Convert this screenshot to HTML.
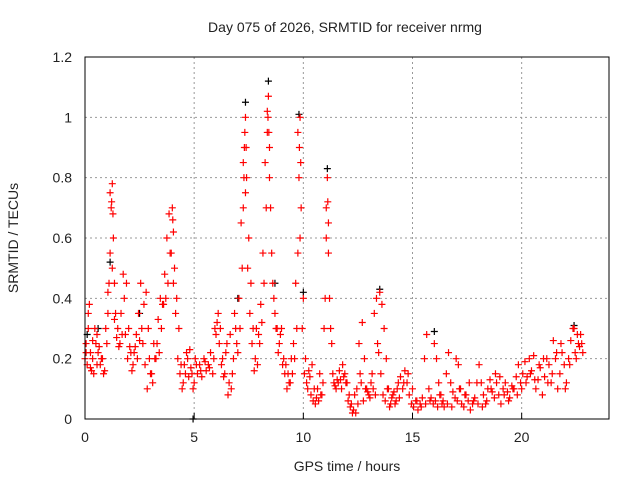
<!DOCTYPE html>
<html><head><meta charset="utf-8"><style>
body{margin:0;background:#fff;}
svg text{font-family:"Liberation Sans",sans-serif;font-size:14px;fill:#222;}
</style></head><body>
<svg width="640" height="480">
<text x="345" y="32" text-anchor="middle">Day 075 of 2026, SRMTID for receiver nrmg</text>
<g id="grid"></g>
<g id="axes"></g>
<g id="black"></g>
<g id="red"></g>
<rect x="85" y="57" width="524" height="362" fill="none" stroke="#000"/>
<text x="347" y="471" text-anchor="middle">GPS time / hours</text>
<text transform="translate(18,238) rotate(-90)" text-anchor="middle">SRMTID / TECUs</text>
</svg>
<script>
const xTicks=[0,5,10,15,20];
const yTicks=[0,0.2,0.4,0.6,0.8,1,1.2];
const yTickLabels=["0","0.2","0.4","0.6","0.8","1","1.2"];
const redT=[0,.05,.1,.15,.2,.25,.3,.35,.4,.5,.55,.6,.7,.8,.9,1.0,1.05,1.1,1.15,1.2,1.22,1.25,1.28,1.3,1.35,1.4,1.5,1.6,1.7,1.8,1.9,2.0,2.1,2.2,2.3,2.4,2.5,2.6,2.7,2.8,2.9,3.0,3.1,3.2,3.3,3.4,3.5,3.6,3.7,3.8,3.9,4.0,4.02,4.05,4.1,4.2,4.3,4.4,4.5,4.6,4.7,4.8,4.9,5.0,5.1,5.3,5.5,5.7,5.9,6.0,6.1,6.2,6.3,6.4,6.5,6.6,6.7,6.8,6.9,7.0,7.1,7.2,7.25,7.28,7.3,7.32,7.35,7.38,7.4,7.5,7.6,7.7,7.8,7.9,8.0,8.1,8.2,8.3,8.35,8.38,8.4,8.42,8.45,8.5,8.6,8.7,8.8,8.9,9.0,9.1,9.2,9.3,9.4,9.5,9.6,9.7,9.75,9.8,9.82,9.85,9.88,9.9,10.0,10.1,10.2,10.3,10.4,10.5,10.6,10.7,10.8,10.9,11.0,11.05,11.1,11.12,11.15,11.2,11.3,11.4,11.5,11.6,11.7,11.8,11.9,12.0,12.1,12.2,12.3,12.4,12.5,12.6,12.7,12.8,12.9,13.0,13.1,13.2,13.3,13.4,13.5,13.6,13.7,13.8,13.9,14.0,14.1,14.2,14.3,14.4,14.6,14.8,15.0,15.2,15.4,15.6,15.8,16.0,16.1,16.2,16.3,16.4,16.6,16.8,17.0,17.1,17.2,17.4,17.6,17.8,18.0,18.2,18.4,18.6,18.8,19.0,19.2,19.4,19.6,19.8,20.0,20.2,20.4,20.6,20.8,21.0,21.2,21.4,21.6,21.8,22.0,22.2,22.4,22.5,22.6,22.7,22.8];
const redV=[.2,.25,.18,.3,.38,.22,.16,.2,.15,.25,.28,.22,.18,.2,.16,.25,.35,.45,.55,.7,.72,.78,.68,.6,.45,.35,.3,.25,.28,.4,.45,.3,.22,.18,.24,.2,.26,.3,.38,.42,.3,.15,.12,.2,.25,.22,.3,.38,.4,.45,.55,.7,.66,.62,.5,.4,.3,.18,.12,.15,.2,.23,.15,.12,.18,.16,.19,.17,.2,.28,.35,.3,.2,.15,.25,.12,.1,.2,.3,.22,.3,.5,.7,.8,.9,.95,1.0,.9,.8,.6,.45,.3,.2,.18,.25,.32,.45,.7,.95,1.0,1.07,.95,.9,.7,.45,.35,.3,.25,.3,.2,.18,.15,.12,.15,.2,.3,.55,.8,.9,1.0,.85,.7,.4,.2,.1,.14,.18,.1,.07,.06,.08,.12,.4,.6,.8,.72,.65,.4,.25,.12,.1,.12,.13,.18,.15,.12,.08,.05,.03,.02,.05,.15,.32,.2,.1,.08,.12,.1,.08,.25,.42,.38,.3,.2,.1,.05,.08,.05,.1,.07,.12,.15,.1,.06,.04,.05,.06,.25,.2,.12,.08,.06,.05,.04,.2,.18,.1,.08,.12,.06,.05,.04,.06,.1,.15,.14,.08,.06,.1,.08,.1,.12,.15,.13,.18,.2,.12,.15,.22,.25,.1,.18,.3,.2,.25,.28,.22];
// second pass: samples at 0.05, 0.15, ... 22.75 h
const red2Start=0.05, red2Step=0.1;
const red2V=[.22,.35,.17,.26,.3,.18,.24,.2,.15,.3,
.42,.75,.5,.33,.27,.24,.35,.48,.28,.2,
.24,.16,.22,.28,.35,.45,.25,.18,.1,.2,
.15,.25,.2,.33,.4,.38,.48,.6,.68,.55,
.45,.35,.2,.15,.1,.18,.22,.14,.17,.1,
.2,.15,.18,.14,.2,.16,.18,.22,.15,.3,
.32,.25,.18,.14,.22,.08,.28,.15,.35,.25,
.4,.65,.85,.75,.5,.35,.25,.16,.3,.28,
.38,.55,.85,1.02,.8,.55,.4,.3,.22,.28,
.18,.15,.1,.12,.2,.25,.45,.95,.6,.3,
.15,.12,.16,.08,.06,.05,.1,.15,.08,.3,
.7,.55,.3,.15,.11,.13,.16,.1,.14,.12,
.06,.04,.02,.08,.1,.25,.12,.06,.1,.09,
.07,.15,.35,.4,.22,.15,.08,.06,.1,.04,
.07,.09,.06,.12,.14,.1,.16,.12,.08,.05,
.04,.06,.03,.05,.07,.2,.28,.1,.07,.05,
.06,.04,.08,.05,.04,.15,.22,.12,.09,.07,
.06,.1,.05,.04,.08,.06,.03,.05,.07,.12,
.18,.12,.08,.05,.1,.13,.09,.07,.12,.08,
.05,.1,.12,.09,.07,.11,.1,.14,.18,.12,
.15,.19,.14,.2,.16,.21,.1,.13,.17,.08,
.14,.2,.18,.12,.26,.2,.1,.15,.22,.18,
.12,.2,.26,.3,.22,.28,.24,.25];
const blackT=[.1,.6,1.15,2.5,4.95,7.0,7.35,8.4,8.7,9.8,10.0,11.1,13.5,16.0,22.4];
const blackV=[.28,.3,.52,.35,0,.4,1.05,1.12,.45,1.01,.42,.83,.43,.29,.31];
const X=t=>85+t*524/24, Y=v=>419-v*362/1.2;
const NS='http://www.w3.org/2000/svg';
function mk(tag,at,parent){const e=document.createElementNS(NS,tag);for(const k in at)e.setAttribute(k,at[k]);parent.appendChild(e);return e;}
const grid=document.getElementById('grid'),axes=document.getElementById('axes');
xTicks.forEach(t=>{
 if(t>0){const l=mk('line',{x1:X(t),x2:X(t),y1:57,y2:419,stroke:'#999','stroke-dasharray':'2,3'},grid);
 
 }
 const tk=mk('line',{x1:X(t),x2:X(t),y1:419,y2:413,stroke:'#000'},axes);
 
 
 const tx=mk('text',{x:X(t),y:442,'text-anchor':'middle'},axes);tx.textContent=t;
 
 
});
yTicks.forEach((v,i)=>{
 if(v>0&&v<1.2){const l=mk('line',{x1:85,x2:609,y1:Y(v),y2:Y(v),stroke:'#999','stroke-dasharray':'2,3'},grid);
 
 }
 const tx=mk('text',{x:72,y:Y(v)+5,'text-anchor':'end'},axes);tx.textContent=yTickLabels[i];
 
 
});
function plot(T,V,col,g,name){T.forEach((t,i)=>{const x=X(t),y=Y(V[i]);
 const p=mk('path',{d:`M${x-3.5},${y}h7M${x},${y-3.5}v7`,stroke:col,'stroke-width':1.2,fill:'none'},g);
 
 });}
plot(blackT,blackV,'#000',document.getElementById('black'),'black-point');
plot(redT,redV,'#f00',document.getElementById('red'),'red-point');
const red2T=red2V.map((v,i)=>red2Start+i*red2Step);
plot(red2T,red2V,'#f00',document.getElementById('red'),'red-point');
</script>
</body></html>
